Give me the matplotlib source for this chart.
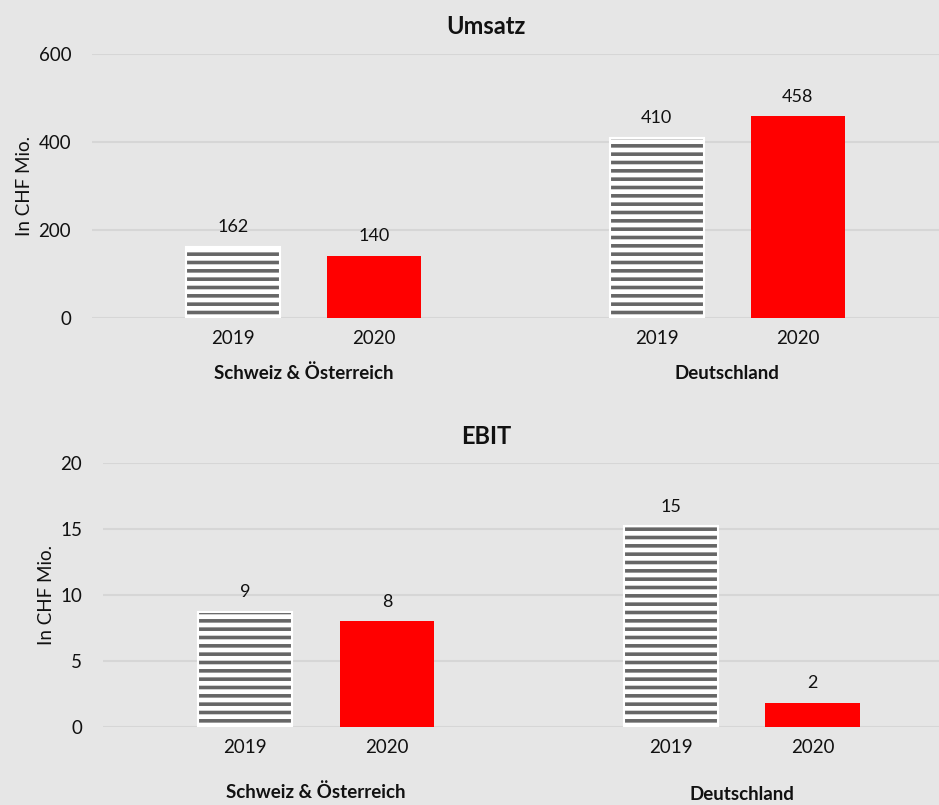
import matplotlib.pyplot as plt
import numpy as np

plt.rcParams['font.family'] = ['Lato', 'DejaVu Sans']
plt.rcParams['hatch.linewidth'] = 2.6

# data
years = ['2019', '2020', '2019', '2020']
regions = ['Schweiz & Österreich', 'Deutschland']
umsatz = [162, 140, 410, 458]
umsatz_labels = ['162', '140', '410', '458']
ebit = [8.7, 8.0, 15.2, 1.8]
ebit_labels = ['9', '8', '15', '2']

bg = '#e6e6e6'
red = '#ff0000'
stripe = '#666666'
pos = np.array([0, 1, 3, 4])
width = 0.665

fig = plt.figure(figsize=(9.39, 8.05), dpi=100, facecolor=bg)
ax1 = fig.add_axes([0.098, 0.605, 0.902, 0.328])
ax2 = fig.add_axes([0.1097, 0.0969, 0.8903, 0.3279])


def draw(ax, vals, labels, title, title_y, ymax, step, xmax, off, region_y):
    ax.set_facecolor(bg)
    for i, (p, v) in enumerate(zip(pos, vals)):
        if i % 2 == 0:
            ax.bar(p, v, width, color='white', edgecolor=stripe, hatch='--', linewidth=0, zorder=2)
            ax.bar(p, v, width, fill=False, edgecolor='white', linewidth=1.5, zorder=3)
        else:
            ax.bar(p, v, width, color=red, linewidth=0, zorder=2)
        ax.text(p, v + ymax * off, labels[i], ha='center', va='bottom', fontsize=13, color='#111111')
    ax.set_ylim(0, ymax)
    ax.set_xlim(-1, xmax)
    ax.set_yticks(np.arange(0, ymax + 1, step))
    ax.set_xticks(pos)
    ax.set_xticklabels(years)
    ax.tick_params(length=0, labelsize=13.5, colors='#111111')
    ax.tick_params(axis='y', pad=15)
    ax.tick_params(axis='x', pad=9)
    ax.grid(axis='y', color='#d6d6d6', linewidth=1.5, zorder=0)
    ax.set_axisbelow(True)
    for s in ax.spines.values():
        s.set_visible(False)
    ax.set_ylabel('In CHF Mio.', fontsize=13.5, color='#111111', labelpad=4)
    fig.text(486 / 939, title_y, title, ha='center', va='center', fontsize=17,
             fontweight='bold', color='#111111')
    for k, r in enumerate(regions):
        ax.text((pos[2 * k] + pos[2 * k + 1]) / 2, region_y[k], r, ha='center', va='center',
                fontsize=13.5, fontweight='bold', color='#111111',
                transform=ax.get_xaxis_transform())


draw(ax1, umsatz, umsatz_labels, 'Umsatz', 1 - 27 / 805, 600, 200, 5, 0.045, [-0.21, -0.21])
draw(ax2, ebit, ebit_labels, 'EBIT', 1 - 436 / 805, 20, 5, 4.89, 0.045, [-0.245, -0.255])

fig.savefig('out.png', dpi=100, facecolor=bg)
